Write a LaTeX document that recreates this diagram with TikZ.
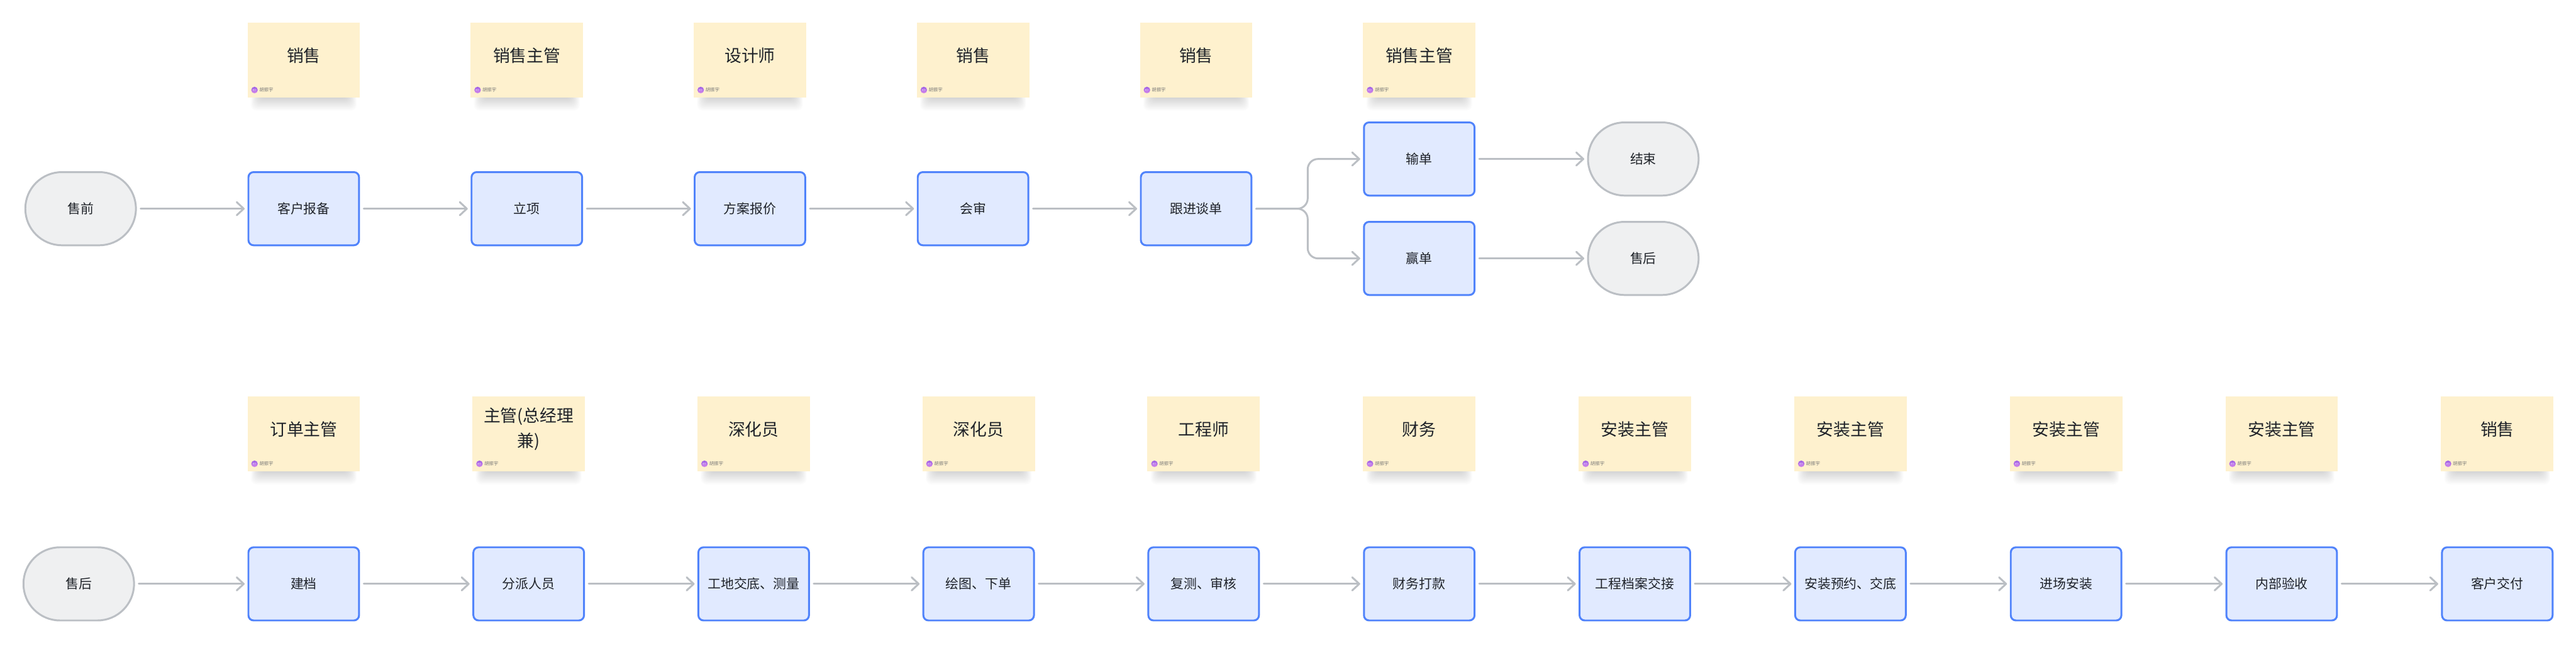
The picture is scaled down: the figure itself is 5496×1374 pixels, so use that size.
\documentclass[tikz,border=0pt]{standalone}
\usepackage{fontspec}
\setmainfont{Noto Sans CJK SC}
\usetikzlibrary{arrows.meta,calc}
\definecolor{boxfill}{HTML}{E1EAFF}
\definecolor{boxline}{HTML}{5083FB}
\definecolor{pillfill}{HTML}{EFF0F1}
\definecolor{greyline}{HTML}{BBBFC4}
\definecolor{notefill}{HTML}{FEF1CE}
\definecolor{ink}{HTML}{1F2329}
\definecolor{authorgrey}{HTML}{7A7A78}
\definecolor{avatartop}{HTML}{9F5FE6}
\definecolor{avatarbot}{HTML}{D58AEA}
\tikzset{
  procbox/.style={draw=boxline,fill=boxfill,line width=4pt,rounded corners=11pt,
    minimum width=236pt,minimum height=156pt,inner sep=0pt,text=ink,font=\fontsize{28}{34}\selectfont},
  pillbox/.style={draw=greyline,fill=pillfill,line width=4pt,rounded corners=78pt,
    minimum width=236pt,minimum height=156pt,inner sep=0pt,text=ink,font=\fontsize{28}{34}\selectfont},
  notebox/.style={fill=notefill,minimum width=240pt,minimum height=160pt,inner sep=0pt,outer sep=0pt},
  notetext/.style={text=ink,align=center,inner sep=0pt,text width=230pt,font=\fontsize{36}{53}\selectfont},
  authortext/.style={text=authorgrey,inner sep=0pt,anchor=west,font=\fontsize{10}{12}\selectfont},
  avatar/.style={circle,minimum size=14pt,inner sep=0pt,top color=avatartop,bottom color=avatarbot,
    text=white!85!avatartop,font=\fontsize{4}{4}\selectfont},
  flow/.style={draw=greyline,line width=4pt,line cap=round,
    -{Straight Barb[length=15pt,width=28pt,round]},shorten <=8pt,shorten >=6pt},
}
\newcommand{\stickynote}[4]{% name, centre x, top y, text
  \foreach \i in {0,...,13}{
    \fill[black,opacity=0.012,rounded corners=12pt]
      ($(#2,#3)+(-113+\i*1.4,140)$) rectangle ($(#2,#3)+(113-\i*1.4,188-\i*2)$);
  }
  \node[notebox] (#1) at ($(#2,#3)+(0,80)$) {};
  \node[notetext] (#1text) at ($(#2,#3)+(0,70)$) {#4};
  \node[avatar] (#1av) at ($(#2,#3)+(-105,144)$) {振宇};
  \node[authortext] (#1au) at ($(#2,#3)+(-95,144)$) {胡振宇};
}
\begin{document}
\begin{tikzpicture}[x=1pt,y=-1pt]
\useasboundingbox[fill=white] (0,0) rectangle (5496,1374);
% row 1 notes
\stickynote{na}{648}{48}{销售}
\stickynote{nb}{1124}{48}{销售主管}
\stickynote{nc}{1600}{48}{设计师}
\stickynote{nd}{2076}{48}{销售}
\stickynote{ne}{2552}{48}{销售}
\stickynote{nf}{3028}{48}{销售主管}
% row 1 flow
\node[pillbox] (start) at (172,445) {售前};
\node[procbox] (a) at (648,445) {客户报备};
\node[procbox] (b) at (1124,445) {立项};
\node[procbox] (c) at (1600,445) {方案报价};
\node[procbox] (d) at (2076,445) {会审};
\node[procbox] (e) at (2552,445) {跟进谈单};
\node[procbox] (lose) at (3028,339) {输单};
\node[procbox] (win) at (3028,551) {赢单};
\node[pillbox] (over) at (3506,339) {结束};
\node[pillbox] (after) at (3506,551) {售后};
\coordinate (fork) at (2790,445);
\draw[flow] (start) -- (a);
\draw[flow] (a) -- (b);
\draw[flow] (b) -- (c);
\draw[flow] (c) -- (d);
\draw[flow] (d) -- (e);
\draw[flow,rounded corners=22pt] (e.east) -- (fork) -- (fork |- lose) -- (lose.west);
\draw[flow,rounded corners=22pt] (e.east) -- (fork) -- (fork |- win) -- (win.west);
\draw[flow] (lose) -- (over);
\draw[flow] (win) -- (after);
% row 2 notes
\stickynote{ma}{648}{845}{订单主管}
\stickynote{mb}{1128}{845}{主管(总经理\\兼)}
\stickynote{mc}{1608}{845}{深化员}
\stickynote{md}{2088}{845}{深化员}
\stickynote{me}{2568}{845}{工程师}
\stickynote{mf}{3028}{845}{财务}
\stickynote{mg}{3488}{845}{安装主管}
\stickynote{mh}{3948}{845}{安装主管}
\stickynote{mi}{4408}{845}{安装主管}
\stickynote{mj}{4868}{845}{安装主管}
\stickynote{mk}{5328}{845}{销售}
% row 2 flow
\node[pillbox] (s2) at (168,1245) {售后};
\node[procbox] (p1) at (648,1245) {建档};
\node[procbox] (p2) at (1128,1245) {分派人员};
\node[procbox] (p3) at (1608,1245) {工地交底、测量};
\node[procbox] (p4) at (2088,1245) {绘图、下单};
\node[procbox] (p5) at (2568,1245) {复测、审核};
\node[procbox] (p6) at (3028,1245) {财务打款};
\node[procbox] (p7) at (3488,1245) {工程档案交接};
\node[procbox] (p8) at (3948,1245) {安装预约、交底};
\node[procbox] (p9) at (4408,1245) {进场安装};
\node[procbox] (p10) at (4868,1245) {内部验收};
\node[procbox] (p11) at (5328,1245) {客户交付};
\draw[flow] (s2) -- (p1);
\draw[flow] (p1) -- (p2);
\draw[flow] (p2) -- (p3);
\draw[flow] (p3) -- (p4);
\draw[flow] (p4) -- (p5);
\draw[flow] (p5) -- (p6);
\draw[flow] (p6) -- (p7);
\draw[flow] (p7) -- (p8);
\draw[flow] (p8) -- (p9);
\draw[flow] (p9) -- (p10);
\draw[flow] (p10) -- (p11);
\end{tikzpicture}
\end{document}
